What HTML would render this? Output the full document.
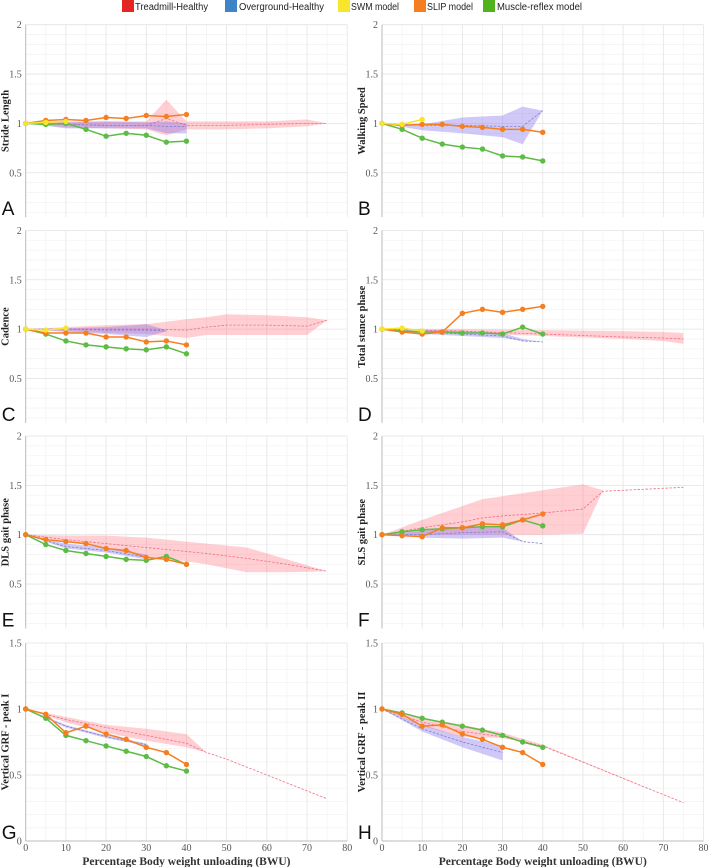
<!DOCTYPE html>
<html><head><meta charset="utf-8"><style>
body{margin:0;background:#fff;}
svg{display:block;font-family:"Liberation Serif",serif;}
.lg{font-family:"Liberation Sans",sans-serif;font-size:10px;fill:#222;}
</style></head><body>
<svg id="fig" width="709" height="867" viewBox="0 0 709 867">
<g>
<rect x="122" y="0" width="12" height="12" fill="#e3261f"/><text class="lg" x="135" y="10" textLength="73" lengthAdjust="spacingAndGlyphs">Treadmill-Healthy</text>
<rect x="225" y="0" width="12" height="12" fill="#3e84c6"/><text class="lg" x="239" y="10" textLength="85" lengthAdjust="spacingAndGlyphs">Overground-Healthy</text>
<rect x="338" y="0" width="12" height="12" fill="#f7e62a"/><text class="lg" x="351" y="10" textLength="48" lengthAdjust="spacingAndGlyphs">SWM model</text>
<rect x="414" y="0" width="12" height="12" fill="#f57f20"/><text class="lg" x="427" y="10" textLength="46" lengthAdjust="spacingAndGlyphs">SLIP model</text>
<rect x="483" y="0" width="12" height="12" fill="#4fb31f"/><text class="lg" x="497" y="10" textLength="85" lengthAdjust="spacingAndGlyphs">Muscle-reflex model</text>
</g>
</svg>
<script>
const modelX = [0,5,10,15,20,25,30,35,40];
const swmX = [0,5,10];
// Panel A - Stride Length
const aTmX=[0,10,20,30,35,40,50,60,70,75], aTmMean=[1,0.99,0.98,0.98,1.05,0.98,0.98,0.99,1.0,1.0], aTmLo=[1,0.96,0.95,0.94,0.88,0.94,0.94,0.95,0.97,1.0], aTmHi=[1,1.02,1.02,1.02,1.24,1.02,1.02,1.02,1.04,1.0];
const aOgX=[0,10,20,30,35,40], aOgMean=[1,0.99,0.98,0.98,0.97,0.97], aOgLo=[1,0.95,0.95,0.95,0.90,0.90], aOgHi=[1,1.01,1.02,1.01,1.02,1.0];
const aSwm=[1,1.01,1.02], aSlip=[1,1.03,1.04,1.03,1.06,1.05,1.08,1.07,1.09], aMr=[1,0.99,1.0,0.94,0.87,0.9,0.88,0.81,0.82];
// Panel B - Walking Speed
const bTmX=[], bTmMean=[], bTmLo=[], bTmHi=[];
const bOgX=[0,10,20,30,35,40], bOgMean=[1,0.98,0.98,0.97,0.97,1.13], bOgLo=[1,0.93,0.9,0.86,0.79,1.13], bOgHi=[1,0.99,1.06,1.08,1.17,1.13];
const bSwm=[1,0.99,1.04], bSlip=[1,0.98,0.99,0.99,0.97,0.96,0.94,0.94,0.91], bMr=[1,0.94,0.85,0.79,0.76,0.74,0.67,0.66,0.62];
// Panel C - Cadence
const cTmX=[0,10,20,30,40,45,50,60,70,75], cTmMean=[1,1,1,1,0.99,1.02,1.04,1.04,1.03,1.09], cTmLo=[1,0.98,0.96,0.95,0.91,0.94,0.94,0.94,0.94,1.09], cTmHi=[1,1.02,1.04,1.05,1.1,1.12,1.15,1.14,1.12,1.09];
const cOgX=[0,10,20,30,35], cOgMean=[1,1,0.99,0.99,0.98], cOgLo=[1,0.97,0.95,0.92,0.98], cOgHi=[1,1.01,1.02,1.05,0.99];
const cSwm=[1,0.99,1.01], cSlip=[1,0.96,0.96,0.96,0.92,0.92,0.87,0.88,0.84], cMr=[1,0.95,0.88,0.84,0.82,0.80,0.79,0.82,0.75];
// Panel D - Total stance phase
const dTmX=[0,20,40,60,70,75], dTmMean=[1,0.98,0.95,0.92,0.91,0.9], dTmLo=[1,0.96,0.93,0.9,0.88,0.85], dTmHi=[1,1.0,0.99,0.98,0.97,0.96];
const dOgX=[0,10,20,30,35,40], dOgMean=[1,0.97,0.95,0.93,0.88,0.87], dOgLo=[1,0.95,0.93,0.91,0.88,0.87], dOgHi=[1,0.99,0.98,0.96,0.9,0.87];
const dSwm=[1,1.01,0.98], dSlip=[1,0.97,0.95,0.97,1.16,1.2,1.17,1.2,1.23], dMr=[1,0.98,0.97,0.97,0.96,0.96,0.95,1.02,0.95];
// Panel E - DLS gait phase
const eTmX=[0,10,20,30,40,45,55,65,75], eTmMean=[1,0.95,0.91,0.87,0.83,0.81,0.76,0.7,0.63], eTmLo=[1,0.93,0.86,0.78,0.73,0.7,0.62,0.62,0.63], eTmHi=[1,0.99,0.99,0.97,0.93,0.91,0.87,0.75,0.63];
const eOgX=[0,10,20,30], eOgMean=[1,0.88,0.84,0.77], eOgLo=[1,0.86,0.82,0.75], eOgHi=[1,0.91,0.87,0.8];
const eSwm=[], eSlip=[1,0.95,0.93,0.91,0.86,0.84,0.77,0.75,0.70], eMr=[1,0.90,0.84,0.81,0.78,0.75,0.74,0.78,0.70];
// Panel F - SLS gait phase
const fTmX=[0,10,20,25,30,40,50,55,60,75], fTmMean=[1,1.07,1.13,1.17,1.19,1.22,1.26,1.44,1.45,1.48], fTmLo=[1,1,1,1,1,1,1.01,1.45,1.45,1.48], fTmHi=[1,1.15,1.29,1.36,1.39,1.45,1.51,1.45,1.45,1.48];
const fOgX=[0,10,20,30,35,40], fOgMean=[1,1.0,1.02,1.03,0.93,0.91], fOgLo=[1,0.97,0.96,0.97,0.93,0.91], fOgHi=[1,1.04,1.07,1.07,0.93,0.91];
const fSwm=[], fSlip=[1,0.99,0.98,1.07,1.07,1.11,1.10,1.15,1.21], fMr=[1,1.03,1.05,1.06,1.07,1.08,1.08,1.15,1.09];
// Panel G - Vertical GRF peak I
const gTmX=[0,10,20,30,40,45,50,60,75], gTmMean=[1,0.92,0.86,0.8,0.74,0.67,0.62,0.5,0.32], gTmLo=[1,0.9,0.82,0.76,0.71,0.67,0.62,0.5,0.32], gTmHi=[1,0.94,0.88,0.85,0.81,0.67,0.62,0.5,0.32];
const gOgX=[0,10,20,30], gOgMean=[1,0.87,0.79,0.73], gOgLo=[1,0.86,0.78,0.72], gOgHi=[1,0.88,0.8,0.74];
const gSwm=[], gSlip=[1,0.96,0.82,0.87,0.81,0.77,0.71,0.67,0.58], gMr=[1,0.93,0.80,0.76,0.72,0.68,0.64,0.57,0.53];
// Panel H - Vertical GRF peak II
const hTmX=[0,10,20,30,40,75], hTmMean=[1,0.9,0.83,0.79,0.72,0.29], hTmLo=[1,0.87,0.79,0.78,0.72,0.29], hTmHi=[1,0.93,0.88,0.82,0.73,0.29];
const hOgX=[0,10,20,30], hOgMean=[1,0.85,0.75,0.67], hOgLo=[1,0.83,0.71,0.61], hOgHi=[1,0.88,0.79,0.72];
const hSwm=[], hSlip=[1,0.96,0.87,0.88,0.81,0.77,0.71,0.67,0.58], hMr=[1,0.97,0.93,0.90,0.87,0.84,0.80,0.75,0.71];

const NS='http://www.w3.org/2000/svg';
const svg=document.getElementById('fig');
function mk(tag,attrs,parent){const e=document.createElementNS(NS,tag);for(const k in attrs)e.setAttribute(k,attrs[k]);(parent||svg).appendChild(e);return e;}

const panels=[
 {id:'a',L:'A',title:'Stride Length',ox:25.7,top:24.7,tm:[aTmX,aTmMean,aTmLo,aTmHi],og:[aOgX,aOgMean,aOgLo,aOgHi],swm:aSwm,slip:aSlip,mr:aMr},
 {id:'b',L:'B',title:'Walking Speed',ox:382,top:24.7,tm:[bTmX,bTmMean,bTmLo,bTmHi],og:[bOgX,bOgMean,bOgLo,bOgHi],swm:bSwm,slip:bSlip,mr:bMr},
 {id:'c',L:'C',title:'Cadence',ox:25.7,top:230.4,tm:[cTmX,cTmMean,cTmLo,cTmHi],og:[cOgX,cOgMean,cOgLo,cOgHi],swm:cSwm,slip:cSlip,mr:cMr},
 {id:'d',L:'D',title:'Total stance phase',ox:382,top:230.4,tm:[dTmX,dTmMean,dTmLo,dTmHi],og:[dOgX,dOgMean,dOgLo,dOgHi],swm:dSwm,slip:dSlip,mr:dMr},
 {id:'e',L:'E',title:'DLS gait phase',ox:25.7,top:436,tm:[eTmX,eTmMean,eTmLo,eTmHi],og:[eOgX,eOgMean,eOgLo,eOgHi],swm:eSwm,slip:eSlip,mr:eMr},
 {id:'f',L:'F',title:'SLS gait phase',ox:382,top:436,tm:[fTmX,fTmMean,fTmLo,fTmHi],og:[fOgX,fOgMean,fOgLo,fOgHi],swm:fSwm,slip:fSlip,mr:fMr},
 {id:'g',L:'G',title:'Vertical GRF - peak I',ox:25.7,top:643,grf:true,tm:[gTmX,gTmMean,gTmLo,gTmHi],og:[gOgX,gOgMean,gOgLo,gOgHi],swm:gSwm,slip:gSlip,mr:gMr},
 {id:'h',L:'H',title:'Vertical GRF - peak II',ox:382,top:643,grf:true,tm:[hTmX,hTmMean,hTmLo,hTmHi],og:[hOgX,hOgMean,hOgLo,hOgHi],swm:hSwm,slip:hSlip,mr:hMr}
];
const W=321.5;
panels.forEach(p=>{
 const ymax=p.grf?1.5:2, ymin=p.grf?0:0.05, k=p.grf?132:98.7;
 const bottom=p.top+(ymax-ymin)*k;
 const X=v=>p.ox+v/80*W, Y=v=>p.top+(ymax-v)*k;
 const g=mk('g',{});
 
 
 for(let v=5;v<80;v+=5){mk('line',{x1:X(v),x2:X(v),y1:p.top,y2:bottom,stroke:'#f3f3f3','stroke-width':0.8},g);}
 for(let v=Math.ceil(ymin*10)/10;v<=ymax+1e-9;v+=0.1){mk('line',{x1:p.ox,x2:p.ox+W,y1:Y(v),y2:Y(v),stroke:'#f3f3f3','stroke-width':0.8},g);}
 for(let v=10;v<=80;v+=10){mk('line',{x1:X(v),x2:X(v),y1:p.top,y2:bottom,stroke:'#e6e6e6','stroke-width':0.8},g);}
 const yt=p.grf?[0,0.5,1,1.5]:[0.5,1,1.5,2];
 yt.forEach(v=>{mk('line',{x1:p.ox,x2:p.ox+W,y1:Y(v),y2:Y(v),stroke:'#e6e6e6','stroke-width':0.8},g);
   const t=mk('text',{x:p.ox-4,y:Y(v)+3.5,'text-anchor':'end','font-size':10,fill:'#555'},g);t.textContent=String(v);
   
   });
 const ax=mk('line',{x1:p.ox,x2:p.ox,y1:p.top,y2:bottom,stroke:'#bbb','stroke-width':1},g);
 
 
 if(p.grf){const bx=mk('line',{x1:p.ox,x2:p.ox+W,y1:bottom,y2:bottom,stroke:'#bbb','stroke-width':1},g);
   
   
   for(let v=0;v<=80;v+=10){const t=mk('text',{x:X(v),y:851,'text-anchor':'middle','font-size':10,fill:'#555'},g);t.textContent=String(v);
     
     }
   const xt=mk('text',{x:p.ox+W/2,y:865,'text-anchor':'middle','font-size':11.5,'font-weight':'bold',fill:'#333'},g);xt.textContent='Percentage Body weight unloading (BWU)';
   
   }
 const cy=(p.top+bottom)/2;
 const tt=mk('text',{x:0,y:0,transform:`translate(${p.ox-17},${cy}) rotate(-90)`,'text-anchor':'middle','font-size':10.5,'font-weight':'bold',fill:'#222'},g);tt.textContent=p.title;
 
 
 const lt=mk('text',{x:p.ox-24,y:bottom-2,'font-size':19,'font-family':'Liberation Sans, sans-serif',fill:'#111'},g);lt.textContent=p.L;
 
 
 function band(arr,fill,line,name){const [xs,m,lo,hi]=arr;if(!xs.length)return;
   let d='M'+xs.map((x,i)=>X(x)+','+Y(hi[i])).join('L')+'L'+xs.map((x,i)=>X(x)+','+Y(lo[i])).reverse().join('L')+'Z';
   const b=mk('path',{d:d,fill:fill,stroke:'none'},g);
   
   
   const ml=mk('polyline',{points:xs.map((x,i)=>X(x)+','+Y(m[i])).join(' '),fill:'none',stroke:line,'stroke-width':0.8,'stroke-dasharray':'2.5,1.5'},g);
   
   }
 band(p.tm,'rgba(255,110,125,0.33)','#f07080','treadmill');
 band(p.og,'rgba(120,100,235,0.35)','#8080c8','overground');
 function series(xs,ys,col,name){if(!ys.length)return;
   const pl=mk('polyline',{points:ys.map((v,i)=>X(xs[i])+','+Y(v)).join(' '),fill:'none',stroke:col,'stroke-width':1.5},g);
   
   
   ys.forEach((v,i)=>{const c=mk('circle',{cx:X(xs[i]),cy:Y(v),r:2.4,fill:col,stroke:col,'stroke-width':0.6},g);
     
     });}
 series(modelX,p.mr,'#5dbb46','muscle-reflex');
 series(modelX,p.slip,'#f57f20','slip');
 series(swmX,p.swm,'#f5e52d','swm');
});
</script>
</body></html>
